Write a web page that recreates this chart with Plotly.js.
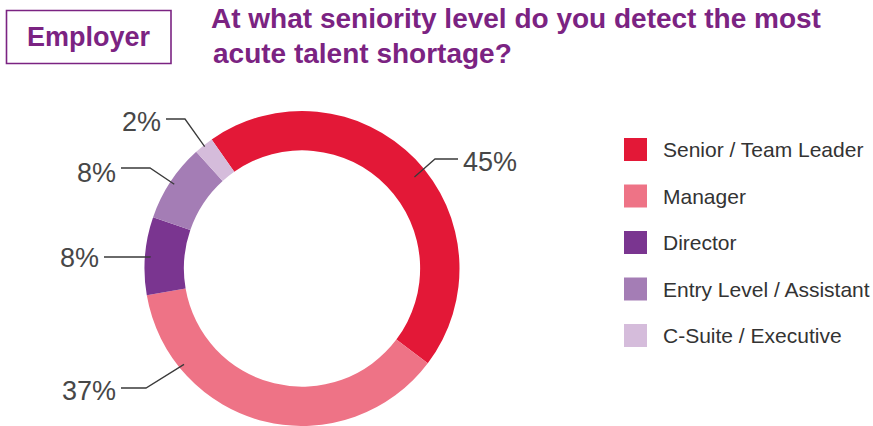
<!DOCTYPE html>
<html><head><meta charset="utf-8">
<script src="https://cdn.plot.ly/plotly-3.0.1.min.js"></script>
<style>html,body{margin:0;padding:0;background:#fff;overflow:hidden}</style>
</head>
<body><div id="chart" style="width:873px;height:426px"></div>
<script>
// ---- data ----
const categories = ['Senior / Team Leader', 'Manager', 'Director', 'Entry Level / Assistant', 'C-Suite / Executive'];
const shares = [45, 37, 8, 8, 2];
const valueLabels = ['45%', '37%', '8%', '8%', '2%'];
const badgeText = 'Employer';
const titleLine1 = 'At what seniority level do you detect the most';
const titleLine2 = 'acute talent shortage?';

// ---- styles / layout constants ----
const colors = ['#E31837', '#EE7386', '#7A3590', '#A47DB5', '#D5BCDB'];
const purple = '#7B2382';
const W = 873, H = 426;
const cx = 302, cy = 268.5;            // pie centre in px (domain below)
const startAngle = -35;                 // rotation, degrees clockwise from 12 o'clock
const leaderFrac = [0.53, 0.78, 0.5, 0.5, 0.5];
const leaderR = [145, 152, 152, 153, 156];
const elbows = [[435, 159], [146, 388], [150, 257], [150, 168], [185, 119]];
const ends = [[458, 159], [121, 388], [104, 257], [121, 168], [166, 119]];
const labelPos = [[461, 162, 'left'], [118, 391, 'right'], [101, 258, 'right'], [118, 173, 'right'], [163, 122, 'right']];
const legendX = 624, legendSize = 23, legendTextX = 661;
const legendY = [149.5, 196, 242.5, 289, 335.5];

const X = px => px / W;
const Y = py => 1 - py / H;

const shapes = [];
const annotations = [];

// leader lines computed from slice angles
const total = shares.reduce((a, b) => a + b, 0);
let acc = 0;
shares.forEach((v, i) => {
  const a0 = startAngle + acc / total * 360;
  const ang = (a0 + leaderFrac[i] * v / total * 360) * Math.PI / 180;
  acc += v;
  const px = cx + leaderR[i] * Math.sin(ang);
  const py = cy - leaderR[i] * Math.cos(ang);
  shapes.push({
    type: 'path', xref: 'paper', yref: 'paper',
    path: `M ${X(px)} ${Y(py)} L ${X(elbows[i][0])} ${Y(elbows[i][1])} L ${X(ends[i][0])} ${Y(ends[i][1])}`,
    line: {color: '#3a3a3a', width: 1.3}
  });
  annotations.push({
    xref: 'paper', yref: 'paper', x: X(labelPos[i][0]), y: Y(labelPos[i][1]),
    xanchor: labelPos[i][2], yanchor: 'middle', showarrow: false,
    text: valueLabels[i],
    font: {family: 'Liberation Sans, Arial, sans-serif', size: 27, color: '#474747'}
  });
});

// custom legend
categories.forEach((c, i) => {
  shapes.push({
    type: 'rect', xref: 'paper', yref: 'paper',
    x0: X(legendX), x1: X(legendX + legendSize),
    y0: Y(legendY[i] - legendSize / 2), y1: Y(legendY[i] + legendSize / 2),
    fillcolor: colors[i], line: {width: 0}
  });
  annotations.push({
    xref: 'paper', yref: 'paper', x: X(legendTextX), y: Y(legendY[i]),
    xanchor: 'left', yanchor: 'middle', showarrow: false, text: c,
    font: {family: 'Liberation Sans, Arial, sans-serif', size: 21, color: '#333333'}
  });
});

// "Employer" badge
shapes.push({
  type: 'rect', xref: 'paper', yref: 'paper',
  x0: X(6.5), x1: X(171), y0: Y(10.5), y1: Y(63.5),
  line: {color: purple, width: 1.6}, fillcolor: 'rgba(0,0,0,0)'
});
annotations.push({
  xref: 'paper', yref: 'paper', x: X(88.5), y: Y(37), xanchor: 'center', yanchor: 'middle',
  showarrow: false, text: '<b>' + badgeText + '</b>',
  font: {family: 'Liberation Sans, Arial, sans-serif', size: 27, color: purple}
});

// second title line
annotations.push({
  xref: 'paper', yref: 'paper', x: X(211), y: Y(53.5), xanchor: 'left', yanchor: 'middle',
  showarrow: false, text: '<b>' + titleLine2 + '</b>',
  font: {family: 'Liberation Sans, Arial, sans-serif', size: 28, color: purple}
});

const trace = {
  type: 'pie',
  labels: categories,
  values: shares,
  marker: {colors: colors, line: {width: 0}},
  hole: 0.75,
  sort: false,
  direction: 'clockwise',
  rotation: startAngle,
  textinfo: 'none',
  hoverinfo: 'label+percent',
  showlegend: false,
  domain: {x: [144 / W, 460 / W], y: [0, 1 - 111 / H]}
};

const layout = {
  width: W, height: H,
  margin: {l: 0, r: 0, t: 0, b: 0},
  paper_bgcolor: '#ffffff',
  showlegend: false,
  title: {
    text: '<b>' + titleLine1 + '</b>',
    x: 211 / W, xanchor: 'left', xref: 'paper',
    y: 1 - 18.5 / H, yanchor: 'middle', yref: 'container',
    font: {family: 'Liberation Sans, Arial, sans-serif', size: 28, color: purple}
  },
  shapes: shapes,
  annotations: annotations
};

Plotly.newPlot('chart', [trace], layout, {displayModeBar: false, staticPlot: true});
</script>
</body></html>
